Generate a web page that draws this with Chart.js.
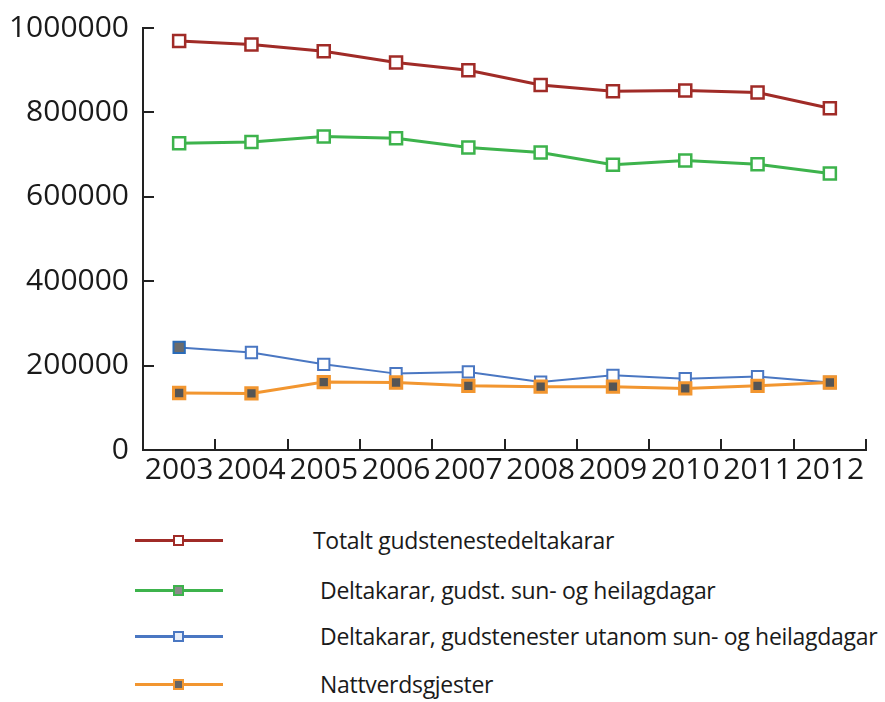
<!DOCTYPE html>
<html>
<head>
<meta charset="utf-8">
<script src="https://cdn.jsdelivr.net/npm/chart.js@4.4.1/dist/chart.umd.min.js"></script>
<style>
  body { margin: 0; background: #fff; width: 885px; height: 702px; position: relative; overflow: hidden; font-family: "Open Sans", sans-serif; }
  #wrap { position: absolute; left: 0; top: 0; width: 885px; height: 490px; }
  #legend { position: absolute; left: 0; top: 0; }
  .row { position: absolute; left: 135px; height: 20px; }
  .line { position: absolute; left: 0; top: 8px; width: 88px; height: 3px; }
  .mark { position: absolute; left: 38px; top: 4px; width: 7px; height: 7px; border-width: 2.5px; border-style: solid; }
  .txt { position: absolute; top: -7px; white-space: nowrap; font-size: 23px; color: #1a1a1a; letter-spacing: -0.3px; }
</style>
</head>
<body>
<div id="wrap"><canvas id="chart"></canvas></div>
<div id="legend"></div>
<script>
// data
const years = ["2003", "2004", "2005", "2006", "2007", "2008", "2009", "2010", "2011", "2012"];
const totalt = [969000, 961000, 945000, 918000, 900000, 865000, 850000, 852000, 847000, 810000];
const sunHeilag = [727000, 730000, 743000, 739000, 717000, 705000, 676000, 686000, 677000, 655000];
const utanom = [243000, 231000, 203000, 181000, 185000, 161000, 177000, 169000, 174000, 160000];
const nattverd = [135000, 134000, 161000, 160000, 152000, 150000, 150000, 146000, 152000, 160000];
const yTicks = [0, 200000, 400000, 600000, 800000, 1000000];

const labels = [
  "Totalt gudstenestedeltakarar",
  "Deltakarar, gudst. sun- og heilagdagar",
  "Deltakarar, gudstenester utanom sun- og heilagdagar",
  "Nattverdsgjester"
];

const red = "#a02b27", green = "#3db34c", blue = "#4a77c2", orange = "#f29630";

// inward tick marks like the original
const innerTicks = {
  id: "innerTicks",
  afterDraw(chart) {
    const { ctx, scales: { x, y } } = chart;
    ctx.save();
    ctx.strokeStyle = "#222";
    ctx.lineWidth = 2;
    const step = (x.right - x.left) / years.length;
    for (let i = 1; i <= years.length; i++) {
      const px = Math.round(x.left + i * step);
      ctx.beginPath();
      ctx.moveTo(px, y.bottom);
      ctx.lineTo(px, y.bottom - 11);
      ctx.stroke();
    }
    yTicks.forEach(v => {
      if (v === 0) return;
      const py = Math.round(y.getPixelForValue(v));
      ctx.beginPath();
      ctx.moveTo(x.left, py);
      ctx.lineTo(x.left + 11, py);
      ctx.stroke();
    });
    ctx.restore();
  }
};

const canvas = document.querySelector("#chart");
const chart = new Chart(canvas.getContext("2d"), {
  type: "line",
  data: {
    labels: years,
    datasets: [
      {
        label: labels[0],
        data: totalt,
        borderColor: red,
        borderWidth: 3,
        pointStyle: "rect",
        pointRadius: 8.5,
        pointBorderWidth: 2.5,
        pointBackgroundColor: "#fff",
        pointBorderColor: red,
        order: 3,
      },
      {
        label: labels[1],
        data: sunHeilag,
        borderColor: green,
        borderWidth: 3,
        pointStyle: "rect",
        pointRadius: 8.5,
        pointBorderWidth: 2.5,
        pointBackgroundColor: "#fff",
        pointBorderColor: green,
        order: 2,
      },
      {
        label: labels[2],
        data: utanom,
        borderColor: blue,
        borderWidth: 2,
        pointStyle: "rect",
        pointRadius: 8,
        pointBorderWidth: 2,
        pointBackgroundColor: ["#6b6b6b", "#fff", "#fff", "#fff", "#fff", "#fff", "#fff", "#fff", "#fff", "#fff"],
        pointBorderColor: ["#2a6bb8", blue, blue, blue, blue, blue, blue, blue, blue, blue],
        order: 1,
      },
      {
        label: labels[3],
        data: nattverd,
        borderColor: orange,
        borderWidth: 3,
        pointStyle: "rect",
        pointRadius: 8,
        pointBorderWidth: 3,
        pointBackgroundColor: "#555",
        pointBorderColor: orange,
        order: 0,
      },
    ],
  },
  options: {
    responsive: true,
    maintainAspectRatio: false,
    animation: false,
    layout: { padding: { top: 28, right: 19, left: 0, bottom: 0 } },
    scales: {
      x: {
        offset: true,
        grid: { display: false, drawTicks: false },
        border: { display: true, color: "#222", width: 2 },
        ticks: { color: "#1a1a1a", padding: 2, maxRotation: 0, autoSkip: false, font: { family: "Open Sans", size: 30 } },
        afterFit(scale) { scale.height = 40; },
      },
      y: {
        min: 0,
        max: 1000000,
        afterBuildTicks(scale) { scale.ticks = yTicks.map(v => ({ value: v })); },
        grid: { display: false, drawTicks: false },
        border: { display: true, color: "#222", width: 2 },
        ticks: {
          color: "#1a1a1a",
          padding: 14,
          font: { family: "Open Sans", size: 30 },
          callback: v => String(v),
        },
        afterFit(scale) {
          scale.width = 143;
          scale.paddingTop = 0;
          scale.paddingBottom = 0;
        },
      },
    },
    plugins: {
      legend: { display: false },
      tooltip: { enabled: false },
    },
  },
  plugins: [innerTicks],
});

// legend below the chart
const legend = document.querySelector("#legend");
const rowTop = [531, 581, 627, 675];
const markFill = ["#fff", "#8a8a8a", "#e8eef8", "#666"];
const txtLeft = [178, 185, 185, 185];
chart.data.datasets.forEach((ds, i) => {
  const row = document.createElement("div");
  row.className = "row";
  row.style.top = rowTop[i] + "px";
  row.innerHTML =
    '<div class="line" style="background:' + ds.borderColor + '"></div>' +
    '<div class="mark" style="background:' + markFill[i] + ';border-color:' + ds.borderColor + '"></div>' +
    '<div class="txt" style="left:' + txtLeft[i] + 'px">' + ds.label + '</div>';
  legend.appendChild(row);
});
</script>
</body>
</html>
